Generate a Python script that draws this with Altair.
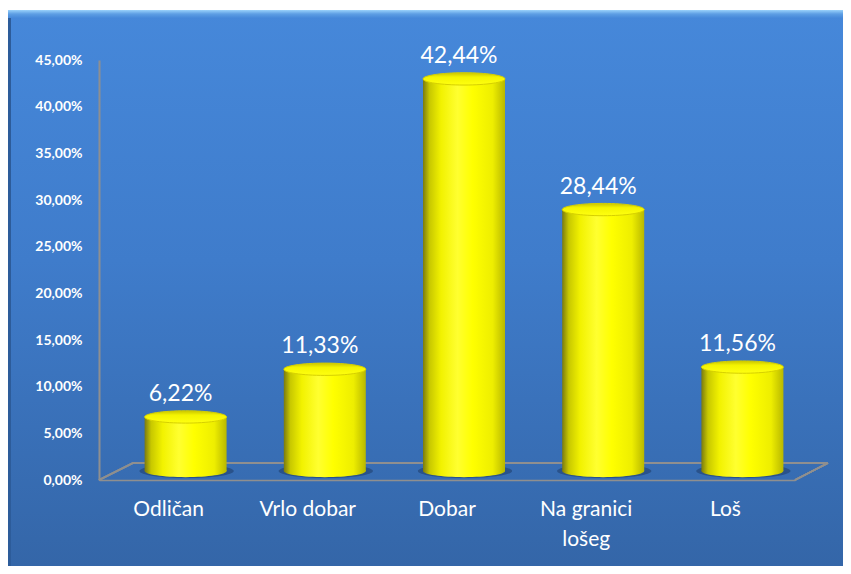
import altair as alt
import pandas as pd

categories = ["Odličan", "Vrlo dobar", "Dobar", "Na granici lošeg", "Loš"]
values = [6.22, 11.33, 42.44, 28.44, 11.56]
tick_values = [0, 5, 10, 15, 20, 25, 30, 35, 40, 45]

df = pd.DataFrame({
    "cat": categories,
    "val": values,
    "label": [f"{v:.2f}".replace(".", ",") + "%" for v in values],
})

W, H = 696, 420
PAD = {"left": 91, "top": 52, "right": 48, "bottom": 86}
DX, DY_TOP, DY_BOT = 17, -5, -9
BAR_W = 82
FONT = "Lato"

x_enc = alt.X("cat:N", sort=categories,
              scale=alt.Scale(paddingInner=0, paddingOuter=0),
              axis=alt.Axis(title=None, labelAngle=0, ticks=False, domain=True,
                            domainColor="#8f8f8f", domainWidth=1.5,
                            labelColor="white", labelFont=FONT, labelFontSize=21,
                            labelPadding=18, labelLineHeight=30, zindex=1,
                            labelExpr="datum.label == 'Na granici lošeg' ? ['Na granici', 'lošeg'] : datum.label"))
y_scale = alt.Scale(domain=[0, 45], nice=False, zero=True)
y_enc = alt.Y("val:Q", scale=y_scale,
              axis=alt.Axis(title=None, values=tick_values, ticks=False, grid=False,
                            domainColor="#8f8f8f", domainWidth=2,
                            labelColor="white", labelFont=FONT, labelFontSize=14,
                            labelFontWeight="bold", labelPadding=17, zindex=1,
                            labelExpr="replace(format(datum.value, '.2f'), '.', ',') + '%'"))

bg_grad = alt.Gradient(gradient="linear", x1=0, x2=0, y1=0, y2=1,
                       stops=[alt.GradientStop(color="#4688da", offset=0),
                              alt.GradientStop(color="#3f7ccb", offset=0.45),
                              alt.GradientStop(color="#3466a8", offset=1)])
top_grad = alt.Gradient(gradient="linear", x1=0, x2=0, y1=0, y2=1,
                        stops=[alt.GradientStop(color="#9ad2fb", offset=0),
                               alt.GradientStop(color="#5d9ee4", offset=0.5),
                               alt.GradientStop(color="#4688da", offset=1)])
bar_grad = alt.Gradient(gradient="linear", x1=0, x2=1, y1=0, y2=0,
                        stops=[alt.GradientStop(color="#7a7a10", offset=0),
                               alt.GradientStop(color="#c8c800", offset=0.08),
                               alt.GradientStop(color="#f2f200", offset=0.22),
                               alt.GradientStop(color="#ffff30", offset=0.42),
                               alt.GradientStop(color="#ffff00", offset=0.6),
                               alt.GradientStop(color="#eeee00", offset=0.85),
                               alt.GradientStop(color="#b8b800", offset=1)])
cap_grad = alt.Gradient(gradient="linear", x1=0, x2=0, y1=0, y2=1,
                        stops=[alt.GradientStop(color="#c9c400", offset=0),
                               alt.GradientStop(color="#f4f400", offset=0.35),
                               alt.GradientStop(color="#ffff10", offset=1)])

ellipse = "M-1,0 A1,0.15,0,1,1,1,0 A1,0.15,0,1,1,-1,0 Z"

background = alt.Chart(df).mark_rect(fill=bg_grad, strokeWidth=0).encode(
    x=alt.value(-PAD["left"]), x2=alt.value(W + PAD["right"]),
    y=alt.value(-PAD["top"] + 2), y2=alt.value(H + PAD["bottom"]))
left_edge = alt.Chart(df).mark_rect(fill="#2d5c9a", opacity=0.8).encode(
    x=alt.value(-PAD["left"]), x2=alt.value(-PAD["left"] + 3),
    y=alt.value(-PAD["top"] + 2), y2=alt.value(H + PAD["bottom"]))
top_band = alt.Chart(df).mark_rect(fill=top_grad).encode(
    x=alt.value(-PAD["left"]), x2=alt.value(W + PAD["right"]),
    y=alt.value(-PAD["top"] + 2), y2=alt.value(-PAD["top"] + 10))

floor_style = dict(color="#8f8f8f", strokeWidth=1.5)
floor_back = alt.Chart(df).mark_rule(**floor_style).encode(
    x=alt.value(34), x2=alt.value(W + 33), y=alt.value(H - 17), y2=alt.value(H - 17))
floor_left = alt.Chart(df).mark_rule(**floor_style).encode(
    x=alt.value(0), x2=alt.value(34), y=alt.value(H), y2=alt.value(H - 17))
floor_right = alt.Chart(df).mark_rule(**floor_style).encode(
    x=alt.value(W), x2=alt.value(W + 33), y=alt.value(H), y2=alt.value(H - 17))

shadow = alt.Chart(df).mark_point(shape=ellipse, filled=True, fill="#1c3862",
                                  opacity=0.5, size=(BAR_W * 1.15) ** 2,
                                  xOffset=DX + 1, yOffset=DY_BOT, strokeWidth=0).encode(
    x=x_enc, y=alt.Y("zero:Q", scale=y_scale))

body = alt.Chart(df).mark_bar(size=BAR_W, fill=bar_grad, xOffset=DX,
                              yOffset=DY_TOP, y2Offset=DY_BOT).encode(
    x=x_enc, y=y_enc, y2=alt.datum(0))

bottom = alt.Chart(df).mark_point(shape=ellipse, filled=True, fill=bar_grad,
                                  size=BAR_W ** 2, xOffset=DX, yOffset=DY_BOT,
                                  strokeWidth=0, opacity=1).encode(
    x=x_enc, y=alt.Y("zero:Q", scale=y_scale))

cap = alt.Chart(df).mark_point(shape=ellipse, filled=True, fill=cap_grad,
                               size=BAR_W ** 2, xOffset=DX, yOffset=DY_TOP,
                               stroke="#d6d000", strokeWidth=1, opacity=1).encode(
    x=x_enc, y=y_enc)

text = alt.Chart(df).mark_text(color="white", font=FONT, fontSize=23,
                               baseline="alphabetic", align="center",
                               xOffset=DX - 5, dy=-21).encode(
    x=x_enc, y=y_enc, text="label:N")

chart = alt.layer(background, left_edge, top_band, floor_back, floor_left, floor_right,
                  shadow, body, bottom, cap, text).transform_calculate(
    zero="0"
).properties(
    width=W, height=H,
    autosize=alt.AutoSizeParams(type="none"),
    padding=PAD,
).configure_view(stroke=None).configure(background="white")

chart.save("out.html", embed_options={"renderer": "svg", "actions": False})
